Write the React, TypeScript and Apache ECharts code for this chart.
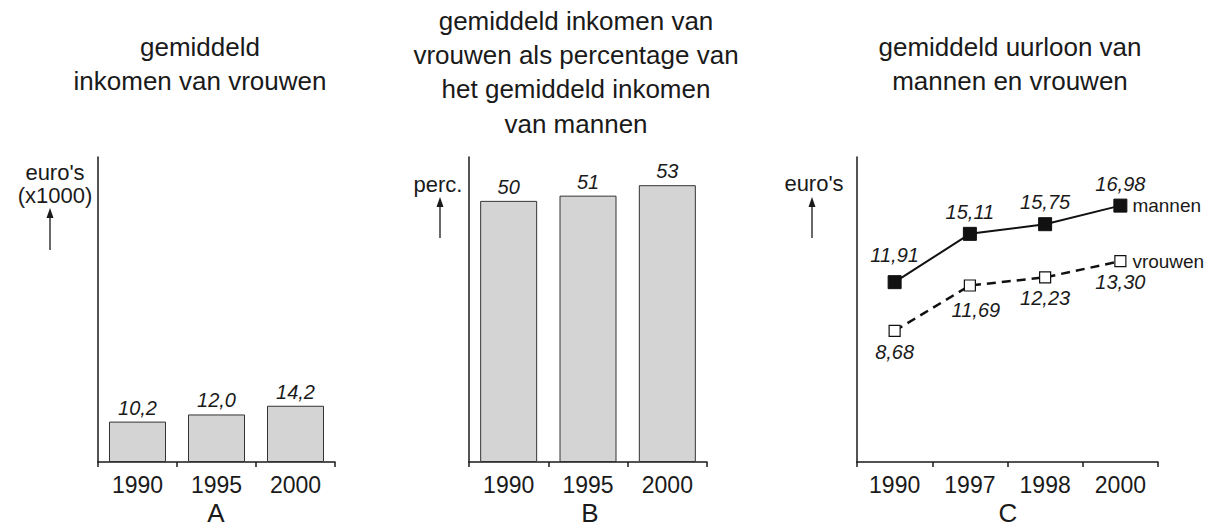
import React, { useEffect, useRef } from "react";
import * as echarts from "echarts";

const yearsA = ["1990", "1995", "2000"];
const incomeWomen = [10.2, 12.0, 14.2];
const yearsB = ["1990", "1995", "2000"];
const pctWomen = [50, 51, 53];
const yearsC = ["1990", "1997", "1998", "2000"];
const wageMen = [11.91, 15.11, 15.75, 16.98];
const wageWomen = [8.68, 11.69, 12.23, 13.3];

const FONT = "'Liberation Sans', Arial, Helvetica, sans-serif";
const INK = "#1a1a1a";

const fmt = (v: number, d: number) => v.toFixed(d).replace(".", ",");

export default function App() {
  const ref = useRef<HTMLDivElement>(null);
  useEffect(() => {
    if (!ref.current) return;
    const chart = echarts.init(ref.current, null, { renderer: "svg" });

    const grids = [
      { left: 98, top: 157, width: 237, height: 305 },
      { left: 469, top: 157, width: 238, height: 305 },
      { left: 857, top: 157, width: 301, height: 305 },
    ];
    const cats = [yearsA, yearsB, yearsC];
    const maxes = [77, 58.4, 20.2];

    const xAxis = cats.map((c, i) => ({
      type: "category",
      gridIndex: i,
      data: c,
      boundaryGap: true,
      axisLine: { show: true, lineStyle: { color: INK, width: 1.5 } },
      axisTick: { show: true, length: 5, alignWithLabel: false, lineStyle: { color: INK, width: 1.5 } },
      axisLabel: { color: INK, fontSize: 23, fontFamily: FONT, margin: 11 },
    }));
    const yAxis = maxes.map((m, i) => ({
      type: "value",
      gridIndex: i,
      min: 0,
      max: m,
      axisLine: { show: true, lineStyle: { color: INK, width: 1.5 } },
      axisTick: { show: false },
      axisLabel: { show: false },
      splitLine: { show: false },
    }));

    const barStyle = { color: "#d4d4d4", borderColor: "#333", borderWidth: 1 };
    const dataLabel = {
      show: true,
      fontSize: 20,
      fontStyle: "italic",
      fontFamily: FONT,
      color: INK,
    };

    const titleText = (lines: string[], x: number, y0: number) =>
      lines.map((t, k) => ({
        type: "text",
        x,
        y: y0 + k * 34.2,
        style: {
          text: t,
          fill: INK,
          font: `26px ${FONT}`,
          textAlign: "center",
          textVerticalAlign: "middle",
        },
      }));

    const txt = (t: string, x: number, y: number, size: number) => ({
      type: "text",
      x,
      y,
      style: {
        text: t,
        fill: INK,
        font: `${size}px ${FONT}`,
        textAlign: "center",
        textVerticalAlign: "middle",
      },
    });

    const arrow = (x: number, yTop: number, yBot: number) => [
      { type: "line", shape: { x1: x, y1: yTop + 6, x2: x, y2: yBot }, style: { stroke: INK, lineWidth: 1.3 } },
      {
        type: "polygon",
        shape: { points: [[x, yTop], [x - 3.5, yTop + 10], [x + 3.5, yTop + 10]] },
        style: { fill: INK },
      },
    ];

    chart.setOption({
      animation: false,
      grid: grids,
      xAxis,
      yAxis,
      series: [
        {
          type: "bar",
          xAxisIndex: 0,
          yAxisIndex: 0,
          data: incomeWomen,
          barWidth: 57,
          itemStyle: barStyle,
          label: { ...dataLabel, position: "top", distance: 4, formatter: (p: any) => fmt(p.value, 1) },
        },
        {
          type: "bar",
          xAxisIndex: 1,
          yAxisIndex: 1,
          data: pctWomen,
          barWidth: 57,
          itemStyle: barStyle,
          label: { ...dataLabel, position: "top", distance: 4, formatter: (p: any) => String(p.value) },
        },
        {
          type: "line",
          name: "mannen",
          xAxisIndex: 2,
          yAxisIndex: 2,
          data: wageMen.map((v, i) => ({
            value: v,
            label: i === 0 ? { offset: [0, -5] } : undefined,
          })),
          symbol: "rect",
          symbolSize: 13,
          itemStyle: { color: "#111", borderColor: "#111" },
          lineStyle: { color: "#111", width: 2 },
          label: { ...dataLabel, position: "top", distance: 5, formatter: (p: any) => fmt(p.value, 2) },
          endLabel: {
            show: true,
            formatter: "{a}",
            fontSize: 19,
            fontFamily: FONT,
            color: INK,
            distance: 12,
          },
        },
        {
          type: "line",
          name: "vrouwen",
          xAxisIndex: 2,
          yAxisIndex: 2,
          data: wageWomen.map((v, i) => ({
            value: v,
            label: i === 1 ? { offset: [6, 3] } : undefined,
          })),
          symbol: "rect",
          symbolSize: 11,
          itemStyle: { color: "#fff", borderColor: "#111", borderWidth: 1.2 },
          lineStyle: { color: "#111", width: 2.5, type: [9, 6] },
          label: { ...dataLabel, position: "bottom", distance: 5, formatter: (p: any) => fmt(p.value, 2) },
          endLabel: {
            show: true,
            formatter: "{a}",
            fontSize: 19,
            fontFamily: FONT,
            color: INK,
            distance: 12,
          },
        },
      ],
      graphic: [
        ...titleText(["gemiddeld", "inkomen van vrouwen"], 200, 47),
        ...titleText(
          ["gemiddeld inkomen van", "vrouwen als percentage van", "het gemiddeld inkomen", "van mannen"],
          576,
          21
        ),
        ...titleText(["gemiddeld uurloon van", "mannen en vrouwen"], 1010, 47),
        txt("euro's", 55, 172, 22),
        txt("(x1000)", 55, 195, 22),
        ...arrow(50, 208, 250),
        txt("perc.", 438, 184, 22),
        ...arrow(440, 197, 238),
        txt("euro's", 814, 183, 22),
        ...arrow(812, 197, 238),
        txt("A", 216, 513, 26),
        txt("B", 590, 513, 26),
        txt("C", 1008, 513, 26),
      ],
    });
    return () => chart.dispose();
  }, []);
  return (
    <div
      ref={ref}
      style={{ position: "fixed", left: 0, top: 0, width: 1208, height: 529, background: "#fff" }}
    />
  );
}
